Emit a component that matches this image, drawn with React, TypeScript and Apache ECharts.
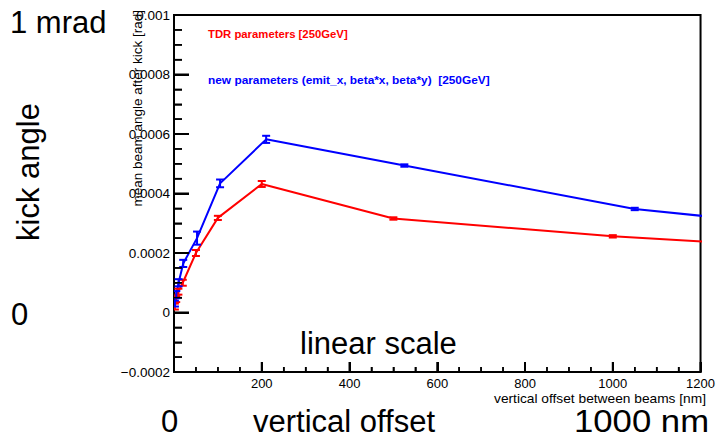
import React, { useEffect, useRef } from "react";
import * as echarts from "echarts";

// TDR parameters [250GeV]
const redX = [2, 5, 10, 20, 50, 100, 200, 500, 1000, 2000];
const redY = [0.00002, 0.000045, 0.00007, 0.0001, 0.0002, 0.000318, 0.000432, 0.000316, 0.000256, 0.00017];
const redErr = [0.00001, 0.00001, 0.00001, 0.00001, 0.00001, 0.000007, 0.00001, 0.000004, 0.000004, 0.000004];

// new parameters (emit_x, beta*x, beta*y) [250GeV]
const blueX = [2.1, 5.25, 10.5, 21, 52.5, 105, 210, 525, 1050, 2100];
const blueY = [0.00003, 0.00006, 0.0001, 0.000165, 0.00025, 0.000434, 0.000582, 0.000494, 0.000348, 0.000189];
const blueErr = [0.00001, 0.000012, 0.000012, 0.000012, 0.000022, 0.000013, 0.000012, 0.000004, 0.000004, 0.000004];

const xTicks = [0, 200, 400, 600, 800, 1000, 1200];
const yTicks = [-0.0002, 0, 0.0002, 0.0004, 0.0006, 0.0008, 0.001];
const MINOR_DIV = 4;

const FONT = '"Liberation Sans", Arial, Helvetica, sans-serif';

function minorOf(ticks: number[]) {
  const out: number[] = [];
  for (let i = 0; i < ticks.length - 1; i++) {
    const step = (ticks[i + 1] - ticks[i]) / MINOR_DIV;
    for (let k = 1; k < MINOR_DIV; k++) out.push(ticks[i] + k * step);
  }
  return out;
}

function errSeries(xs: number[], ys: number[], es: number[], color: string) {
  return {
    type: "custom",
    clip: true,
    silent: true,
    encode: { x: 0, y: [1, 2] },
    data: xs.map((x, i) => [x, ys[i] - es[i], ys[i] + es[i]]),
    z: 3,
    renderItem: (params: any, api: any) => {
      const x = api.value(0);
      const lo = api.coord([x, api.value(1)]);
      const hi = api.coord([x, api.value(2)]);
      const w = 4;
      const st = { stroke: color, lineWidth: 2 };
      return {
        type: "group",
        children: [
          { type: "line", shape: { x1: lo[0], y1: lo[1], x2: hi[0], y2: hi[1] }, style: st },
          { type: "line", shape: { x1: lo[0] - w, y1: lo[1], x2: lo[0] + w, y2: lo[1] }, style: st },
          { type: "line", shape: { x1: hi[0] - w, y1: hi[1], x2: hi[0] + w, y2: hi[1] }, style: st },
        ],
      };
    },
  };
}

function fmtY(v: number) {
  const r = Number(v.toFixed(5));
  if (r === 0) return "0";
  if (r < 0) return "\u2212" + String(-r);
  return String(r);
}

export default function App() {
  const ref = useRef<HTMLDivElement>(null);
  useEffect(() => {
    if (!ref.current) return;
    const chart = echarts.init(ref.current, undefined, { renderer: "svg" });
    const bigText = (text: string, x: number, y: number, align: string, extra: any = {}) => ({
      type: "text",
      x,
      y,
      ...extra,
      style: { text, fill: "#000", font: `31px ${FONT}`, textAlign: align, textVerticalAlign: "middle" },
    });
    const smallText = (text: string, x: number, y: number, font: string, fill: string, align: string, extra: any = {}) => ({
      type: "text",
      x,
      y,
      ...extra,
      style: { text, fill, font: `${font} ${FONT}`, textAlign: align, textVerticalAlign: "middle" },
    });
    const texts = [
      smallText("TDR parameters [250GeV]", 208, 34, "bold 11px", "#ff0000", "left", { scaleX: 1.03 }),
      smallText("new parameters (emit_x, beta*x, beta*y)  [250GeV]", 208, 80, "bold 11px", "#0000ff", "left", { scaleX: 1.08 }),
      smallText("mean beam angle after kick [rad]", 137, 10, "13.5px", "#000", "right", { rotation: Math.PI / 2 }),
      smallText("vertical offset between beams [nm]", 706, 399, "12.5px", "#000", "right", { scaleX: 1.1 }),
      bigText("1 mrad", 10, 22, "left"),
      bigText("kick angle", 28, 172, "center", { rotation: Math.PI / 2 }),
      bigText("0", 11, 314, "left"),
      bigText("linear scale", 300, 343, "left"),
      bigText("0", 161, 421.5, "left"),
      bigText("vertical offset", 253, 421.5, "left"),
      bigText("1000 nm", 574, 421.5, "left", { scaleX: 1.12 }),
    ];
    chart.setOption({
      animation: false,
      backgroundColor: "#fff",
      grid: {
        left: 174,
        top: 15,
        right: 13,
        bottom: 66,
        show: true,
        borderColor: "#000",
        borderWidth: 2,
      },
      xAxis: {
        type: "value",
        min: xTicks[0],
        max: xTicks[xTicks.length - 1],
        interval: 200,
        axisLine: { show: true, onZero: false, lineStyle: { color: "#000", width: 2 } },
        axisTick: { show: true, inside: true, length: 10, lineStyle: { color: "#000", width: 2 } },
        minorTick: { show: true, splitNumber: MINOR_DIV, length: 5, lineStyle: { color: "#000", width: 1.5 } },
        splitLine: { show: false },
        axisLabel: {
          color: "#000",
          fontFamily: FONT,
          fontSize: 13,
          margin: 5,
          formatter: (v: number) => (v === 0 ? "" : String(v)),
        },
      },
      yAxis: {
        type: "value",
        min: yTicks[0],
        max: yTicks[yTicks.length - 1],
        interval: 0.0002,
        axisLine: { show: true, onZero: false, lineStyle: { color: "#000", width: 2 } },
        axisTick: { show: true, inside: true, length: 15, lineStyle: { color: "#000", width: 2 } },
        minorTick: { show: true, splitNumber: MINOR_DIV, length: 8, lineStyle: { color: "#000", width: 1.5 } },
        splitLine: { show: false },
        axisLabel: { color: "#000", fontFamily: FONT, fontSize: 13.5, margin: 4, formatter: fmtY },
      },
      series: [
        {
          type: "line",
          name: "TDR parameters [250GeV]",
          data: redX.map((x, i) => [x, redY[i]]),
          symbol: "none",
          clip: true,
          lineStyle: { color: "#ff0000", width: 2 },
          itemStyle: { color: "#ff0000" },
          z: 2,
        },
        {
          type: "line",
          name: "new parameters (emit_x, beta*x, beta*y)  [250GeV]",
          data: blueX.map((x, i) => [x, blueY[i]]),
          symbol: "none",
          clip: true,
          lineStyle: { color: "#0000ff", width: 2 },
          itemStyle: { color: "#0000ff" },
          z: 2,
        },
        errSeries(redX, redY, redErr, "#ff0000"),
        errSeries(blueX, blueY, blueErr, "#0000ff"),
      ],
      graphic: texts,
    });

    // tick marks placed through the chart's own axis scales
    try {
      const px = (v: number) => chart.convertToPixel({ xAxisIndex: 0 } as any, v) as unknown as number;
      const py = (v: number) => chart.convertToPixel({ yAxisIndex: 0 } as any, v) as unknown as number;
      const xAxisY = py(yTicks[0]);
      const yAxisX = px(xTicks[0]);
      const tickEls: any[] = [];
      const mk = (x1: number, y1: number, x2: number, y2: number, w: number) => ({
        type: "line",
        z: 50,
        silent: true,
        shape: { x1, y1, x2, y2 },
        style: { stroke: "#000", lineWidth: w },
      });
      xTicks.forEach((v) => {
        const x = px(v);
        tickEls.push(mk(x, xAxisY, x, xAxisY - 10, 2));
      });
      minorOf(xTicks).forEach((v) => {
        const x = px(v);
        tickEls.push(mk(x, xAxisY, x, xAxisY - 5, 1.5));
      });
      yTicks.forEach((v) => {
        const y = py(v);
        tickEls.push(mk(yAxisX, y, yAxisX + 15, y, 2));
      });
      minorOf(yTicks).forEach((v) => {
        const y = py(v);
        tickEls.push(mk(yAxisX, y, yAxisX + 8, y, 1.5));
      });
      if (tickEls.every((e) => isFinite(e.shape.x1) && isFinite(e.shape.y1))) {
        chart.setOption({ graphic: [...texts, ...tickEls] });
      }
    } catch (e) {
      // leave the chart as it is
    }
    return () => chart.dispose();
  }, []);
  return (
    <div
      ref={ref}
      style={{ position: "absolute", left: 0, top: 0, width: 718, height: 438, background: "#fff" }}
    />
  );
}
